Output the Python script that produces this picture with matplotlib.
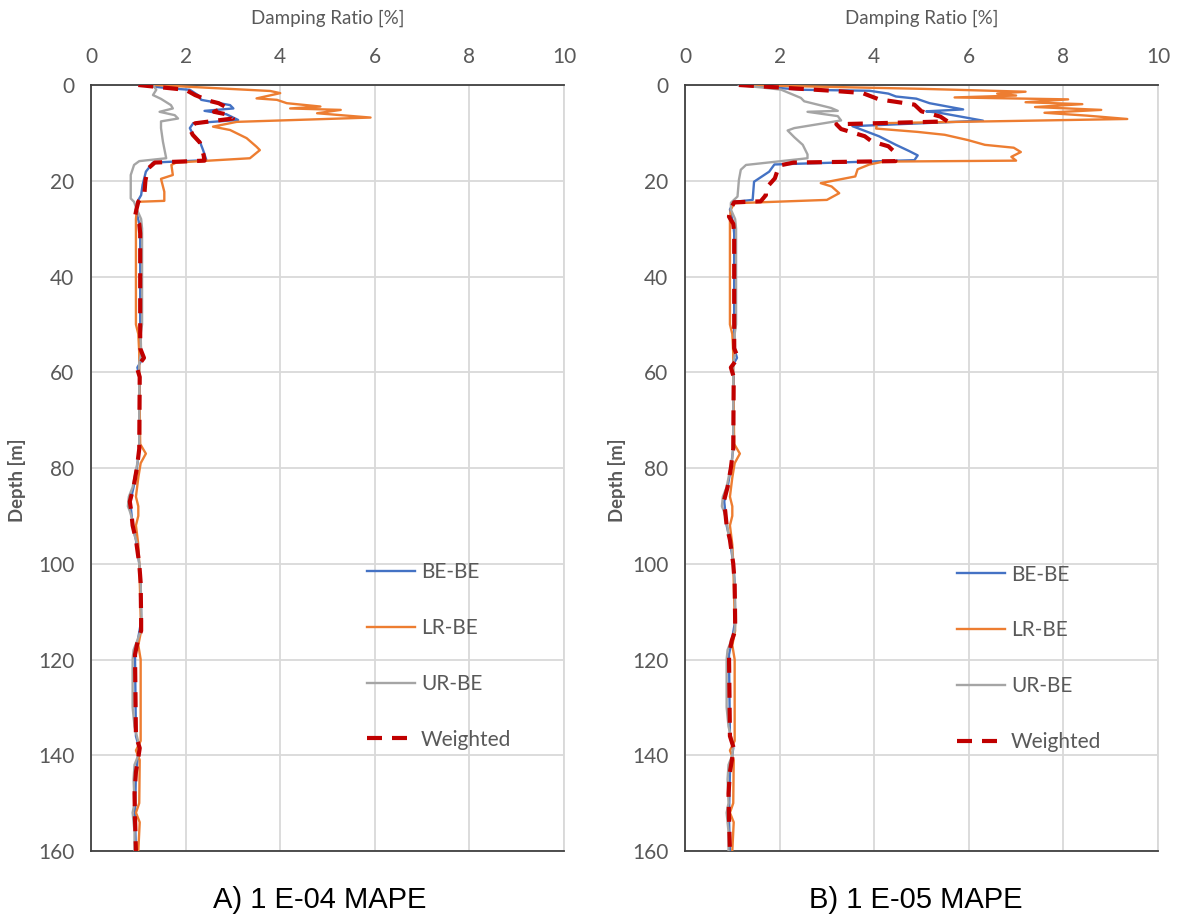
import matplotlib
matplotlib.use("Agg")
import matplotlib.pyplot as plt

# ---- data ----
# shallow part, panel A (1 E-04 MAPE)
a_be_depth = [0, 0.7, 1.0, 2.1, 3.1, 4.2, 4.9, 5.4, 6.1, 7.3, 8.0, 9.0, 10.4, 11.8, 13.6, 15.7, 16.2, 18.1, 20.9, 23.0, 24.2]
a_be = [1.02, 1.66, 2.09, 2.26, 2.33, 2.94, 3.01, 2.4, 2.86, 3.11, 2.16, 2.09, 2.16, 2.3, 2.37, 2.44, 1.31, 1.16, 1.09, 1.06, 0.99]

a_lr_depth = [0, 1.25, 1.7, 2.8, 3.1, 3.8, 4.5, 4.9, 5.2, 5.9, 6.8, 7.7, 8.7, 9.4, 11.1, 12.9, 13.6, 15.3, 16.2, 16.7, 18.8, 19.6, 22.3, 24.2, 24.4]
a_lr = [1.34, 3.79, 4.0, 3.5, 3.93, 4.14, 4.85, 4.21, 5.28, 4.78, 5.91, 3.08, 2.58, 2.94, 3.29, 3.5, 3.57, 3.36, 1.8, 1.7, 1.73, 1.48, 1.55, 1.55, 0.98]

a_ur_depth = [0, 1.0, 2.1, 2.9, 4.2, 4.9, 5.6, 6.3, 7.0, 7.6, 9.0, 11.8, 15.3, 15.9, 16.7, 18.8, 23.7, 24.4, 25.5]
a_ur = [1.31, 1.38, 1.31, 1.48, 1.69, 1.73, 1.45, 1.77, 1.84, 1.48, 1.48, 1.52, 1.59, 1.02, 0.91, 0.84, 0.84, 0.91, 0.95]

a_w_depth = [0, 0.7, 1.0, 2.1, 3.3, 3.8, 4.6, 5.0, 5.6, 6.3, 7.0, 8.0, 9.0, 10.4, 12.0, 14.6, 15.8, 16.2, 17.5, 20.0, 22.6, 24.4]
a_w = [1.0, 1.7, 2.0, 2.2, 2.5, 2.7, 2.85, 2.75, 2.6, 2.95, 3.0, 2.2, 2.08, 2.15, 2.3, 2.38, 2.4, 1.35, 1.2, 1.15, 1.13, 1.0]

# shallow part, panel B (1 E-05 MAPE)
b_be_depth = [0, 1.0, 1.2, 1.8, 2.4, 2.85, 3.8, 5.1, 5.5, 5.8, 7.45, 8.6, 10.7, 12.5, 13.8, 14.7, 15.7, 16.6, 18.1, 20.2, 24.0, 24.4]
b_be = [1.14, 2.5, 3.9, 4.3, 4.46, 4.89, 5.17, 5.88, 5.1, 5.38, 6.3, 3.54, 4.1, 4.46, 4.74, 4.92, 4.85, 1.89, 1.78, 1.46, 1.43, 1.04]

b_lr_depth = [0, 0.8, 1.4, 1.8, 2.2, 2.6, 3.0, 3.6, 4.0, 4.6, 5.2, 5.8, 6.4, 7.1, 7.5, 8.0, 8.6, 9.1, 9.8, 10.4, 11.5, 12.5, 13.1, 14.0, 15.0, 15.8,
              16.0, 16.6, 17.0, 17.6, 19.1, 20.5, 21.2, 22.6, 24.0, 24.7]
b_lr = [1.15, 5.0, 7.2, 6.6, 7.0, 5.7, 8.1, 7.2, 8.4, 7.4, 8.8, 7.6, 8.5, 9.35, 7.0, 4.0, 4.05, 4.04, 4.92, 5.49, 5.98, 6.34, 6.95, 7.1, 6.9, 7.0,
        4.2, 3.9, 3.8, 3.65, 3.6, 2.87, 3.1, 3.26, 3.0, 1.04]

b_ur_depth = [0, 0.97, 2.7, 3.4, 4.8, 5.4, 5.6, 6.5, 7.4, 9.0, 9.5, 10.9, 12.5, 14.5, 15.3, 16.7, 17.7, 19.8, 23.3, 24.6]
b_ur = [1.14, 2.03, 2.45, 2.52, 3.09, 3.23, 2.59, 3.23, 3.3, 2.31, 2.17, 2.31, 2.49, 2.59, 2.59, 1.29, 1.18, 1.14, 1.11, 0.97]

b_w_depth = [0, 1.2, 1.67, 3.0, 3.5, 4.1, 5.5, 6.6, 7.6, 8.2, 9.2, 10.7, 11.8, 12.8, 13.9, 15.9, 16.2, 16.8, 17.7, 19.5, 21.6, 23.0, 24.3, 24.5]
b_w = [1.14, 3.1, 3.75, 4.1, 4.45, 4.85, 5.0, 5.4, 5.55, 3.2, 3.3, 3.8, 3.95, 4.3, 4.42, 4.45, 2.3, 2.0, 1.96, 1.9, 1.71, 1.71, 1.6, 1.04]

# deep part, nearly the same in both panels
deep_be_depth = [26, 29, 31, 55, 57, 59, 61, 76, 80, 84, 87, 89, 92, 95, 100, 104, 112, 116, 119, 136, 138.5, 143.5, 153, 160]
deep_be = [0.95, 1.02, 1.04, 1.04, 1.1, 0.98, 1.03, 1.02, 0.97, 0.9, 0.83, 0.85, 0.88, 0.95, 1.02, 1.05, 1.06, 0.99, 0.93, 0.95, 1.02, 0.95, 0.93, 0.95]

deep_lr_depth = [26, 28, 50, 52, 56, 60, 75, 77, 79, 82, 86, 88, 90, 92, 96, 100, 114, 117, 120, 137, 139, 141, 150, 152, 154, 160]
deep_lr = [0.97, 0.95, 0.95, 1.0, 1.02, 1.02, 1.04, 1.16, 1.05, 1.0, 0.95, 1.0, 1.0, 0.95, 1.0, 1.02, 1.06, 1.0, 1.05, 1.05, 0.95, 1.03, 1.02, 0.95, 1.03, 1.0]

deep_ur_depth = [26, 28, 30, 50, 52, 56, 58, 60, 75, 78, 80, 84, 86, 88, 89, 91, 94, 96, 100, 104, 112, 114, 116, 118, 120, 130, 134, 138,
                 140, 142, 145, 150, 152, 156, 160]
deep_ur = [0.97, 1.06, 1.08, 1.08, 1.05, 1.06, 1.02, 1.02, 1.02, 1.0, 0.96, 0.88, 0.8, 0.78, 0.82, 0.88, 0.92, 0.98, 1.02, 1.05, 1.07, 1.05,
           0.98, 0.9, 0.88, 0.88, 0.92, 1.02, 1.0, 0.92, 0.9, 0.92, 0.88, 0.92, 0.92]

deep_w_depth = [26, 27.5, 29, 31, 55, 57, 59, 61, 76, 80, 84, 87, 89, 92, 95, 100, 104, 112, 114, 116, 119, 136, 138.5, 140.5, 143.5, 148, 153, 160]
deep_w = [0.96, 0.93, 1.02, 1.04, 1.04, 1.12, 0.97, 1.03, 1.02, 0.97, 0.9, 0.82, 0.85, 0.88, 0.95, 1.02, 1.05, 1.06, 1.06, 0.99, 0.93, 0.95,
          1.03, 1.0, 0.95, 0.92, 0.93, 0.95]

series_names = ["BE-BE", "LR-BE", "UR-BE", "Weighted"]
captions = ["A) 1 E-04 MAPE", "B) 1 E-05 MAPE"]
x_ticks = [0, 2, 4, 6, 8, 10]
y_ticks = [0, 20, 40, 60, 80, 100, 120, 140, 160]

BLUE = "#4472C4"
ORANGE = "#ED7D31"
GRAY = "#A5A5A5"
RED = "#C00000"
TXT = "#595959"
GRID = "#D9D9D9"
FRAME = "#404040"

plt.rcParams["font.family"] = ["Lato", "DejaVu Sans"]

fig = plt.figure(figsize=(11.8, 9.24), dpi=100)
W, H = 1180, 924


def axes_box(left, right, top, bottom):
    return [left / W, 1 - bottom / H, (right - left) / W, (bottom - top) / H]


panels = [
    dict(box=axes_box(91, 564, 85, 851),
         be=(a_be_depth, a_be), lr=(a_lr_depth, a_lr), ur=(a_ur_depth, a_ur), w=(a_w_depth, a_w),
         leg=(0.5835, 0.377), ylab_x=-0.156, cap_x=320),
    dict(box=axes_box(685, 1158, 85, 851),
         be=(b_be_depth, b_be), lr=(b_lr_depth, b_lr), ur=(b_ur_depth, b_ur), w=(b_w_depth, b_w),
         leg=(0.575, 0.374), ylab_x=-0.144, cap_x=916),
]

for i, p in enumerate(panels):
    ax = fig.add_axes(p["box"])

    be_d = p["be"][0] + deep_be_depth
    be_v = p["be"][1] + deep_be
    lr_d = p["lr"][0] + deep_lr_depth
    lr_v = p["lr"][1] + deep_lr
    ur_d = p["ur"][0] + deep_ur_depth
    ur_v = p["ur"][1] + deep_ur
    w_d = p["w"][0] + deep_w_depth
    w_v = p["w"][1] + deep_w

    ax.plot(be_v, be_d, color=BLUE, lw=1.7, label=series_names[0], zorder=3)
    ax.plot(lr_v, lr_d, color=ORANGE, lw=1.7, label=series_names[1], zorder=3)
    ax.plot(ur_v, ur_d, color=GRAY, lw=1.7, label=series_names[2], zorder=3)
    ax.plot(w_v, w_d, color=RED, lw=3.0, dashes=(3.6, 2.4), label=series_names[3], zorder=4)

    ax.set_xlim(0, 10)
    ax.set_ylim(160, 0)
    ax.set_xticks(x_ticks)
    ax.set_yticks(y_ticks)
    ax.xaxis.tick_top()
    ax.tick_params(axis="x", length=0, pad=13, labelsize=15, labelcolor=TXT)
    ax.tick_params(axis="y", length=0, pad=12, labelsize=15, labelcolor=TXT)
    ax.grid(True, color=GRID, lw=1.3)
    ax.set_axisbelow(True)

    for side in ["top", "left", "bottom"]:
        ax.spines[side].set_color(FRAME)
        ax.spines[side].set_linewidth(1.3)
    ax.spines["right"].set_color(GRID)
    ax.spines["right"].set_linewidth(1.3)

    ax.set_xlabel("Damping Ratio [%]", fontsize=13.5, color=TXT)
    ax.xaxis.set_label_position("top")
    ax.xaxis.set_label_coords(0.5, 1 + (85 - 18) / 766)
    ax.xaxis.label.set_va("center")

    ax.set_ylabel("Depth [m]", fontsize=13.3, color=TXT, fontweight="bold")
    ax.yaxis.set_label_coords(p["ylab_x"], (851 - 480) / 766)
    ax.yaxis.label.set_va("center")

    leg = ax.legend(loc="upper left", bbox_to_anchor=p["leg"], frameon=False,
                    borderpad=0, borderaxespad=0, handlelength=2.3, handletextpad=0.3,
                    labelspacing=1.72, fontsize=15)
    for t in leg.get_texts():
        t.set_color(TXT)

    fig.text(p["cap_x"] / W, 1 - 900 / H, captions[i], ha="center", va="center",
             fontsize=21, family=["Liberation Sans", "DejaVu Sans"], color="black")

fig.savefig("out.png", dpi=100)
